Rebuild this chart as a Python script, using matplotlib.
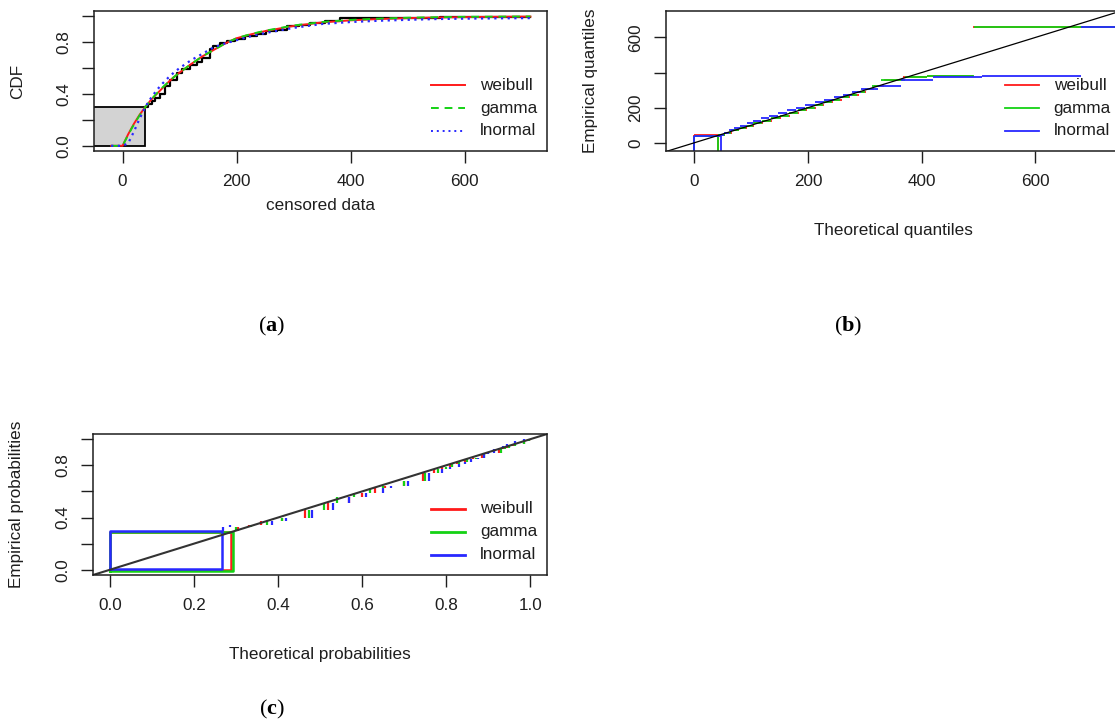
import matplotlib
matplotlib.use("Agg")
import matplotlib.pyplot as plt
from matplotlib.patches import Rectangle

plt.rcParams['font.family'] = 'Liberation Sans'
plt.rcParams['mathtext.fontset'] = 'custom'
plt.rcParams['mathtext.rm'] = 'Liberation Serif'
plt.rcParams['mathtext.bf'] = 'Liberation Serif:bold'

# ---- data ----
dists = ["weibull", "gamma", "lnormal"]
colors = ["#ff1a1a", "#14d214", "#2828ff"]

# (a) empirical CDF of the censored data and fitted CDFs
cens_lim = 40
cens_prob = 0.30
emp_x = [40, 45, 51, 57, 65, 74, 83, 95, 105, 118, 130, 139, 153, 159, 171, 183,
         197, 215, 235, 252, 270, 288, 310, 329, 355, 381, 557, 715]
emp_y = [0.30, 0.325, 0.345, 0.37, 0.40, 0.46, 0.51, 0.56, 0.59, 0.625, 0.645, 0.68,
         0.745, 0.77, 0.79, 0.81, 0.825, 0.845, 0.86, 0.885, 0.895, 0.925, 0.935,
         0.945, 0.96, 0.988, 0.995, 0.995]

cdf_x = [-20, 0, 10, 20, 30, 40, 50, 60, 70, 80, 90, 100, 120, 140, 160, 180, 200,
         225, 250, 275, 300, 350, 400, 450, 500, 550, 600, 650, 715]
cdf_weibull = [0, 0, 0.09, 0.17, 0.24, 0.30, 0.355, 0.40, 0.445, 0.49, 0.53, 0.565,
               0.63, 0.69, 0.74, 0.79, 0.83, 0.86, 0.885, 0.905, 0.925, 0.952, 0.968,
               0.978, 0.985, 0.99, 0.993, 0.995, 0.997]
cdf_gamma = [0, 0, 0.085, 0.165, 0.235, 0.30, 0.355, 0.405, 0.45, 0.49, 0.53, 0.565,
             0.63, 0.69, 0.74, 0.79, 0.83, 0.862, 0.888, 0.908, 0.928, 0.955, 0.971,
             0.981, 0.988, 0.992, 0.995, 0.996, 0.998]
cdf_lnormal = [0, 0, 0.02, 0.11, 0.21, 0.30, 0.37, 0.43, 0.48, 0.525, 0.565, 0.60,
               0.66, 0.71, 0.76, 0.79, 0.815, 0.845, 0.87, 0.89, 0.91, 0.94, 0.955,
               0.965, 0.972, 0.978, 0.981, 0.983, 0.985]

# (b) Q-Q plot: empirical quantile levels and theoretical interval edges
qq_levels = [45, 57, 70, 83, 95, 110, 125, 140, 155, 170, 185, 200, 215, 230, 245,
             260, 275, 290, 305, 322, 357, 376, 383, 660]
qq_weibull = [42, 54, 66, 79, 92, 105, 120, 136, 152, 168, 184, 199, 214, 229, 244,
              259, 274, 289, 302, 316, 333, 368, 410, 490, 800]
qq_gamma = [42, 53, 65, 78, 91, 104, 119, 134, 150, 166, 182, 197, 212, 227, 242,
            257, 272, 287, 300, 313, 328, 370, 410, 493, 800]
qq_lnormal = [47, 52, 61, 70, 80, 92, 104, 117, 132, 147, 163, 179, 195, 212, 228,
              245, 261, 277, 294, 323, 364, 420, 507, 680, 800]
qq_cens_top = [44, 41, 38]

# (c) P-P plot: empirical probability steps and theoretical probabilities
pp_emp = [0.30, 0.325, 0.345, 0.37, 0.40, 0.46, 0.51, 0.56, 0.59, 0.625, 0.645, 0.68,
          0.745, 0.77, 0.79, 0.81, 0.825, 0.845, 0.86, 0.885, 0.895, 0.925, 0.935,
          0.945, 0.96, 0.988, 1.0]
pp_weibull = [0.305, 0.33, 0.36, 0.41, 0.465, 0.52, 0.57, 0.60, 0.63, 0.655, 0.70,
              0.745, 0.77, 0.79, 0.81, 0.825, 0.845, 0.865, 0.885, 0.895, 0.925, 0.935,
              0.945, 0.96, 0.985, 0.998]
pp_gamma = [0.30, 0.335, 0.375, 0.41, 0.475, 0.51, 0.54, 0.58, 0.62, 0.65, 0.70, 0.75,
            0.78, 0.80, 0.815, 0.83, 0.85, 0.87, 0.89, 0.90, 0.93, 0.94, 0.95, 0.965,
            0.985, 0.998]
pp_lnormal = [0.27, 0.285, 0.385, 0.42, 0.48, 0.53, 0.57, 0.61, 0.65, 0.67, 0.71, 0.76,
              0.79, 0.81, 0.83, 0.845, 0.86, 0.875, 0.89, 0.90, 0.915, 0.925, 0.935,
              0.945, 0.965, 0.985]
pp_cens_right = [0.289, 0.293, 0.266]
pp_cens_low = [0.0, -0.007, 0.003]
pp_cens_top = [0.292, 0.288, 0.297]

W, H = 1115, 724
dark = "#1e1e1e"
fig = plt.figure(figsize=(W / 100, H / 100), dpi=100)


def add_px(left, right, top, bottom):
    return fig.add_axes([left / W, 1 - bottom / H, (right - left) / W, (bottom - top) / H])


def style(ax, xt, xl, yt, yl, xlabel, ylabel, x_off=80, y_off=76):
    for s in ax.spines.values():
        s.set_color(dark)
        s.set_linewidth(1.1)
    ax.set_xticks(xt, xl)
    ax.set_yticks(yt, yl)
    ax.tick_params(length=8.3, width=1.0, color=dark, pad=8, labelsize=12.3,
                   labelcolor=dark)
    ax.tick_params(axis='y', labelrotation=90)
    for t in ax.get_yticklabels():
        t.set_va('center')
    bb = ax.get_position()
    hpx, wpx = bb.height * H, bb.width * W
    ax.set_xlabel(xlabel, fontsize=12.3, color=dark)
    ax.set_ylabel(ylabel, fontsize=12.3, color=dark)
    ax.xaxis.set_label_coords(0.5, -x_off / hpx)
    ax.yaxis.set_label_coords(-y_off / wpx, 0.5)
    ax.xaxis.label.set_va('center')
    ax.yaxis.label.set_va('center')


def legend(ax, styles, lw):
    for (name, col, ls), y in zip(styles, [0.47, 0.305, 0.145]):
        ax.plot([0.745, 0.82], [y, y], transform=ax.transAxes, color=col, lw=lw,
                linestyle=ls, clip_on=False)
        ax.text(0.852, y, name, transform=ax.transAxes, va='center', fontsize=12.3,
                color=dark, clip_on=False)


# ---- (a) CDF comparison ----
ax = add_px(94, 547, 11, 151)
ax.add_patch(Rectangle((-100, 0), cens_lim + 100, cens_prob, fc='#d3d3d3', ec='black',
                       lw=1.3))
ax.step(emp_x, emp_y, where='post', color='black', lw=1.6)
ax.plot(cdf_x, cdf_weibull, color=colors[0], lw=1.4)
ax.plot(cdf_x, cdf_gamma, color=colors[1], lw=1.4, linestyle=(0, (4, 3)))
ax.plot(cdf_x, cdf_lnormal, color=colors[2], lw=1.6, linestyle=(0, (1, 2)))
ax.set_xlim(-50, 744)
ax.set_ylim(-0.04, 1.04)
style(ax, [0, 200, 400, 600], ["0", "200", "400", "600"],
      [0, 0.2, 0.4, 0.6, 0.8, 1.0], ["0.0", "", "0.4", "", "0.8", ""],
      "censored data", "CDF", x_off=55)
legend(ax, [(dists[0], colors[0], '-'), (dists[1], colors[1], (0, (4, 3))),
            (dists[2], colors[2], (0, (1, 2)))], 1.4)

# ---- (b) Q-Q plot ----
ax = add_px(666, 1121, 11, 151)
for q, col, top in zip([qq_weibull, qq_gamma, qq_lnormal], colors, qq_cens_top):
    ax.vlines([0, q[0]], -100, top, color=col, lw=1.3)
    ax.hlines(top, 0, q[0], color=col, lw=1.3)
    ax.hlines(qq_levels, q[:-1], q[1:], color=col, lw=1.3)
ax.axline((0, 0), slope=1, color='black', lw=0.9)
ax.set_xlim(-50, 751)
ax.set_ylim(-47, 751)
style(ax, [0, 200, 400, 600], ["0", "200", "400", "600"],
      [0, 200, 400, 600], ["0", "200", "", "600"],
      "Theoretical quantiles", "Empirical quantiles")
legend(ax, [(d, c, '-') for d, c in zip(dists, colors)], 1.3)

# ---- (c) P-P plot ----
ax = add_px(93, 547, 434, 575)
for p, col, right, low, top in zip([pp_weibull, pp_gamma, pp_lnormal], colors,
                                   pp_cens_right, pp_cens_low, pp_cens_top):
    ax.plot([0, right, right, 0, 0], [low, low, top, top, low], color=col, lw=1.8)
    ax.vlines(p, pp_emp[:-1], pp_emp[1:], color=col, lw=1.6)
ax.axline((0, 0), slope=1, color='#333333', lw=1.5)
ax.set_xlim(-0.04, 1.04)
ax.set_ylim(-0.04, 1.04)
style(ax, [0, 0.2, 0.4, 0.6, 0.8, 1.0], ["0.0", "0.2", "0.4", "0.6", "0.8", "1.0"],
      [0, 0.2, 0.4, 0.6, 0.8, 1.0], ["0.0", "", "0.4", "", "0.8", ""],
      "Theoretical probabilities", "Empirical probabilities")
legend(ax, [(d, c, '-') for d, c in zip(dists, colors)], 2.0)

# ---- panel letters ----
for x, y, s in [(272, 326, 'a'), (848, 326, 'b'), (272, 709, 'c')]:
    fig.text(x / W, 1 - y / H, r'($\mathbf{%s}$)' % s, family='Liberation Serif',
             fontsize=16, ha='center', va='center', color='black')

fig.savefig("out.png", dpi=100)
